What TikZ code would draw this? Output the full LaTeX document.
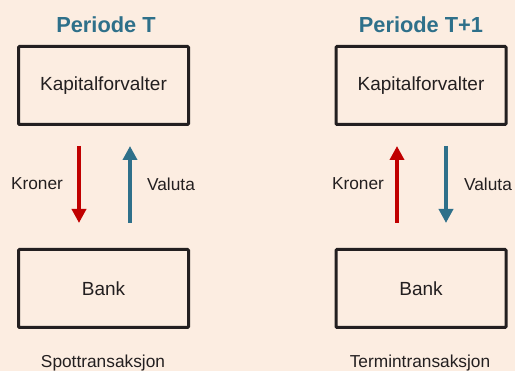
\documentclass[tikz,border=0pt]{standalone}
\usepackage{fontspec}
\setmainfont{Liberation Sans}
\usetikzlibrary{arrows.meta}
\definecolor{bgc}{RGB}{252,237,225}
\definecolor{titc}{RGB}{46,112,138}
\definecolor{redc}{RGB}{192,0,0}
\definecolor{bluec}{RGB}{46,112,138}
\definecolor{txtc}{RGB}{35,31,32}
\tikzset{
  box/.style={draw=txtc, line width=3pt, rounded corners=1pt, minimum width=170pt, minimum height=78pt, inner sep=0pt, text=txtc, font=\fontsize{19}{21}\selectfont},
  lbl/.style={text=txtc, font=\fontsize{17.3}{19}\selectfont, inner sep=0pt},
  ttl/.style={text=titc, font=\fontsize{21.8}{24}\selectfont\bfseries, inner sep=0pt},
  flow/.style={line width=4pt, -{Triangle[length=14pt,width=14pt]}},
}
\begin{document}
\begin{tikzpicture}[x=1pt,y=-1pt]
\fill[bgc] (0,0) rectangle (515,371);
\useasboundingbox (0,0) rectangle (515,371);
\node[ttl] (t1) at (106,25) {Periode T};
\node[ttl] (t2) at (421,25) {Periode T+1};
\node[box] (k1) at (103.5,85.5) {Kapitalforvalter};
\node[box] (k2) at (421,85.5) {Kapitalforvalter};
\node[box] (b1) at (103.5,288.5) {Bank};
\node[box] (b2) at (421,288.5) {Bank};
\coordinate (r1s) at (79,146); \coordinate (r1e) at (79,223);
\coordinate (u1s) at (130,223); \coordinate (u1e) at (130,146);
\coordinate (r2s) at (397,223); \coordinate (r2e) at (397,146);
\coordinate (u2s) at (446,146); \coordinate (u2e) at (446,223);
\draw[flow, redc] (r1s) -- (r1e);
\draw[flow, bluec] (u1s) -- (u1e);
\draw[flow, redc] (r2s) -- (r2e);
\draw[flow, bluec] (u2s) -- (u2e);
\node[lbl] (kr1) at (37,184) {Kroner};
\node[lbl] (va1) at (171,184) {Valuta};
\node[lbl] (kr2) at (358,184) {Kroner};
\node[lbl] (va2) at (488,184) {Valuta};
\node[lbl] (s1) at (103,363) {Spottransaksjon};
\node[lbl] (s2) at (420,363) {Termintransaksjon};
\end{tikzpicture}
\end{document}
